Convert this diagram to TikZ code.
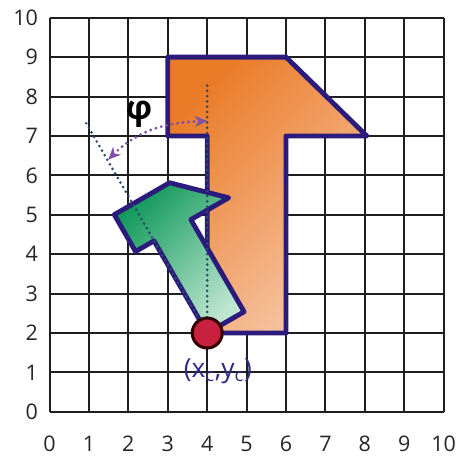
\documentclass[tikz,border=0pt]{standalone}
\usepackage{fontspec}
\setmainfont{Open Sans}
\usetikzlibrary{arrows.meta}
\definecolor{gridc}{HTML}{1E1E1E}
\definecolor{outl}{HTML}{2B1B7C}
\definecolor{orA}{HTML}{EA7C28}
\definecolor{orB}{HTML}{F7C6A6}
\definecolor{grA}{HTML}{149A5C}
\definecolor{grB}{HTML}{BDE6D0}
\definecolor{dotblue}{HTML}{2A4A70}
\definecolor{phic}{HTML}{7B52A8}
\definecolor{redc}{HTML}{C8203F}
\definecolor{lblc}{HTML}{2E2B85}
\begin{document}
\begin{tikzpicture}[
  gridline/.style={draw=gridc, line width=1.4pt},
  outlined/.style={draw=outl, line width=3.5pt, line join=round},
  axisdots/.style={draw=dotblue, line width=2.1pt, line cap=round, dash pattern=on 0pt off 3.8pt},
  phidots/.style={draw=phic, line width=2.3pt, line cap=round, dash pattern=on 0pt off 4pt},
  numlbl/.style={font=\fontsize{15.5}{17}\selectfont, text=black!85, inner sep=0pt}
]
\useasboundingbox (-1.257,-1.117) rectangle (10.338,10.45);
\draw[gridline] (0,0) grid (10,10);
\foreach \i in {0,...,10} {
  \node[numlbl, anchor=east] (y\i) at (-0.29,\i) {\i};
  \node[numlbl] (x\i) at (\i,-0.82) {\i};
}
% orange arrow
\path[outlined, top color=orA, bottom color=orB, shading angle=45, shift={(4,2)}]
  (0,0) -- (2,0) -- (2,5) -- (4.05,5) -- (2,7) -- (-1,7) -- (-1,5) -- (0,5) -- cycle;
% green arrow (rotated by phi, scaled)
\path[outlined, top color=grA, bottom color=grB, shading angle=45, shift={(4,2)}, rotate=30, scale=0.54]
  (0,0) -- (2,0) -- (2,5) -- (4.05,5) -- (2,7) -- (-1,7) -- (-1,5) -- (0,5) -- cycle;
% axes of the arrows
\coordinate (c) at (4,2);
\coordinate (vtop) at (4,8.4);
\coordinate (rtop) at (0.87,7.43);
\draw[axisdots] (c) -- (vtop);
\draw[axisdots] (c) -- (rtop);
% centre point
\node[circle, fill=redc, draw=black!80!red, line width=2.2pt, minimum size=0.76cm, inner sep=0pt] (cdot) at (c) {};
\node[text=lblc, font=\fontsize{19}{22}\selectfont, inner sep=1pt] (lbl) at (4.27,1.02) {(x\textsubscript{c},y\textsubscript{c})};
% angle phi
\coordinate (pa) at (4,7.38);
\coordinate (pb) at (1.49,6.40);
\draw[phidots, {Stealth[length=9pt,width=8pt]}-{Stealth[length=9pt,width=8pt]}] (pa) to[out=182,in=45] (pb);
\node[font=\fontsize{24}{28}\selectfont\bfseries, inner sep=0pt] (phi) at (2.27,7.55) {φ};
\end{tikzpicture}
\end{document}
